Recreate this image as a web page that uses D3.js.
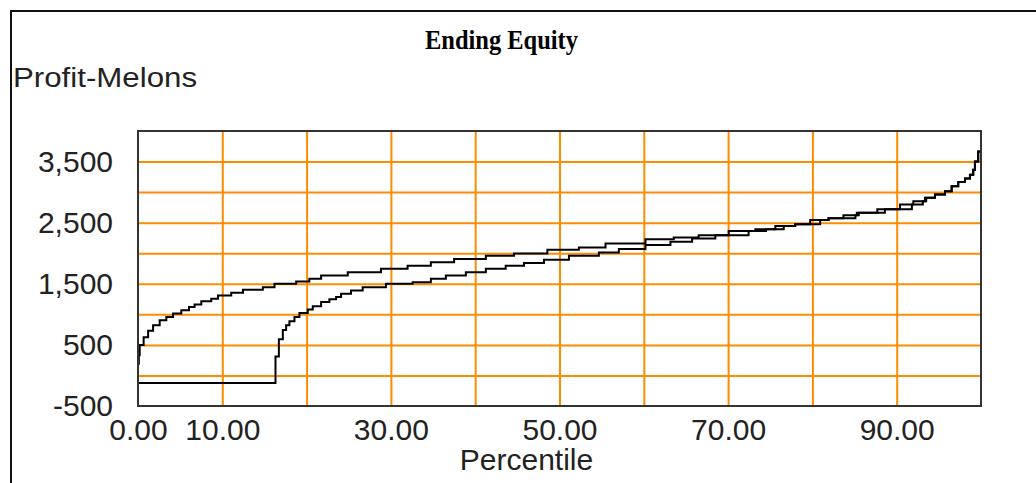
<!DOCTYPE html>
<html>
<head>
<meta charset="utf-8">
<script src="https://cdn.jsdelivr.net/npm/d3@7"></script>
<style>
  body { margin: 0; background: #fff; }
  svg { display: block; }
</style>
</head>
<body>
<div class="chart"></div>
<script>
// percentile knots (step-after) and profit values
const pctUpper = [0, 0.1, 0.2, 0.67, 1.2, 1.79, 2.57, 3.36, 4.16, 5.14, 6.05, 6.71, 7.51, 8.69, 9.49,
  11.06, 12.45, 14.81, 16.19, 18.76, 20.33, 21.72, 24.88, 28.82, 31.98, 34.74, 37.5, 41.26, 44.61,
  48.56, 52.3, 55.46, 60.2, 63.55, 66.51, 70.07, 73.23, 75.6, 77.96, 79.74, 81.91, 83.68, 85.27,
  87.7, 90.4, 91.97, 93.36, 94.54, 95.73, 96.52, 97.3, 98.1, 98.69, 99.08, 99.28, 99.67, 100];
const valUpper = [190, 330, 500, 623, 730, 823, 904, 958, 1013, 1067, 1120, 1159, 1213, 1256, 1310,
  1354, 1403, 1445, 1500, 1537, 1581, 1635, 1688, 1744, 1797, 1851, 1906, 1959, 1997,
  2057, 2094, 2159, 2230, 2257, 2295, 2365, 2393, 2446, 2474, 2544, 2571, 2620, 2662,
  2720, 2799, 2852, 2906, 2961, 3015, 3096, 3166, 3221, 3286, 3367, 3502, 3664, 3713];

const pctLower = [0, 16.31, 16.71, 17.18, 17.57, 17.96, 18.56, 19.15, 20.14, 20.73, 21.72, 22.7, 23.5,
  24.09, 25.27, 26.65, 29.41, 32.58, 34.74, 36.52, 38.89, 41.26, 43.62, 45.79, 48.16, 51.12, 54.67,
  57.04, 60.2, 63.16, 65.73, 68.49, 72.43, 74.5, 76.6, 77.96, 80.92, 81.91, 85.1, 85.5, 88.6, 91.8,
  93.1, 93.5, 94.54, 95.73, 96.52, 97.3, 98.1, 98.69, 99.08, 99.28, 99.67, 100];
const valLower = [-123, 308, 591, 742, 823, 888, 958, 1023, 1078, 1131, 1201, 1245, 1282,
  1338, 1391, 1445, 1500, 1526, 1581, 1635, 1688, 1744, 1797, 1841, 1894, 1959, 2013,
  2068, 2133, 2187, 2240, 2295, 2365, 2393, 2446, 2474, 2544, 2571, 2620, 2662, 2720, 2799,
  2852, 2906, 2961, 3015, 3096, 3166, 3221, 3286, 3367, 3502, 3664, 3713];

const yGridValues = [0, 500, 1000, 1500, 2000, 2500, 3000, 3500];
const yLabelValues = [-500, 500, 1500, 2500, 3500];
const xGridValues = [10, 20, 30, 40, 50, 60, 70, 80, 90];
const xLabelValues = [0, 10, 30, 50, 70, 90];

const width = 1036, height = 483;
const plot = { left: 138, right: 981, top: 131, bottom: 406 };
const gridColor = "#ff8c00";
const sans = "'Liberation Sans', Arial, sans-serif";
const comma = d3.format(",");

const svg = d3.select(".chart").append("svg")
  .attr("width", width)
  .attr("height", height);

// outer frame, right/bottom edges fall outside the window
svg.append("rect")
  .attr("x", 11).attr("y", 11)
  .attr("width", 1060).attr("height", 520)
  .attr("fill", "none")
  .attr("stroke", "#111")
  .attr("stroke-width", 2);

const x = d3.scaleLinear().domain([0, 100]).range([plot.left, plot.right]);
const y = d3.scaleLinear().domain([-500, 4000]).range([plot.bottom, plot.top]);

// grid
svg.append("g")
  .attr("transform", `translate(${plot.left},0)`)
  .call(d3.axisLeft(y).tickValues(yGridValues).tickSize(-(plot.right - plot.left)).tickFormat(""))
  .call(g => g.select(".domain").remove())
  .call(g => g.selectAll("line").attr("stroke", gridColor).attr("stroke-width", 2));

svg.append("g")
  .attr("transform", `translate(0,${plot.bottom})`)
  .call(d3.axisBottom(x).tickValues(xGridValues).tickSize(-(plot.bottom - plot.top)).tickFormat(""))
  .call(g => g.select(".domain").remove())
  .call(g => g.selectAll("line").attr("stroke", gridColor).attr("stroke-width", 2));

// tick labels
svg.append("g")
  .attr("transform", `translate(${plot.left},0)`)
  .call(d3.axisLeft(y).tickValues(yLabelValues).tickSize(0).tickPadding(25)
    .tickFormat(d => comma(d).replace("\u2212", "-")))
  .call(g => g.select(".domain").remove())
  .call(g => g.selectAll("text").attr("font-family", sans).attr("font-size", 30).attr("fill", "#222"));

svg.append("g")
  .attr("transform", `translate(0,${plot.bottom})`)
  .call(d3.axisBottom(x).tickValues(xLabelValues).tickSize(0).tickPadding(13).tickFormat(d3.format(".2f")))
  .call(g => g.select(".domain").remove())
  .call(g => g.selectAll("text").attr("font-family", sans).attr("font-size", 30).attr("fill", "#222"));

// curves
const line = d3.line()
  .x(d => x(d[0]))
  .y(d => y(d[1]))
  .curve(d3.curveStepAfter);

const series = [
  d3.zip(pctUpper, valUpper),
  d3.zip(pctLower, valLower)
];

svg.append("g")
  .selectAll("path")
  .data(series)
  .join("path")
  .attr("d", line)
  .attr("fill", "none")
  .attr("stroke", "#000")
  .attr("stroke-width", 2);

// plot border
svg.append("rect")
  .attr("x", plot.left).attr("y", plot.top)
  .attr("width", plot.right - plot.left)
  .attr("height", plot.bottom - plot.top)
  .attr("fill", "none")
  .attr("stroke", "#333")
  .attr("stroke-width", 2);

// titles
svg.append("text")
  .attr("x", 501.5).attr("y", 49)
  .attr("text-anchor", "middle")
  .attr("font-family", "'Liberation Serif', 'Times New Roman', serif")
  .attr("font-weight", "bold")
  .attr("font-size", 27)
  .attr("textLength", 153)
  .attr("lengthAdjust", "spacingAndGlyphs")
  .text("Ending Equity");

svg.append("text")
  .attr("x", 13).attr("y", 87)
  .attr("font-family", sans)
  .attr("font-size", 27)
  .attr("fill", "#222")
  .attr("textLength", 184)
  .attr("lengthAdjust", "spacingAndGlyphs")
  .text("Profit-Melons");

svg.append("text")
  .attr("x", 526.5).attr("y", 470)
  .attr("text-anchor", "middle")
  .attr("font-family", sans)
  .attr("font-size", 30)
  .attr("fill", "#222")
  .text("Percentile");
</script>
</body>
</html>
